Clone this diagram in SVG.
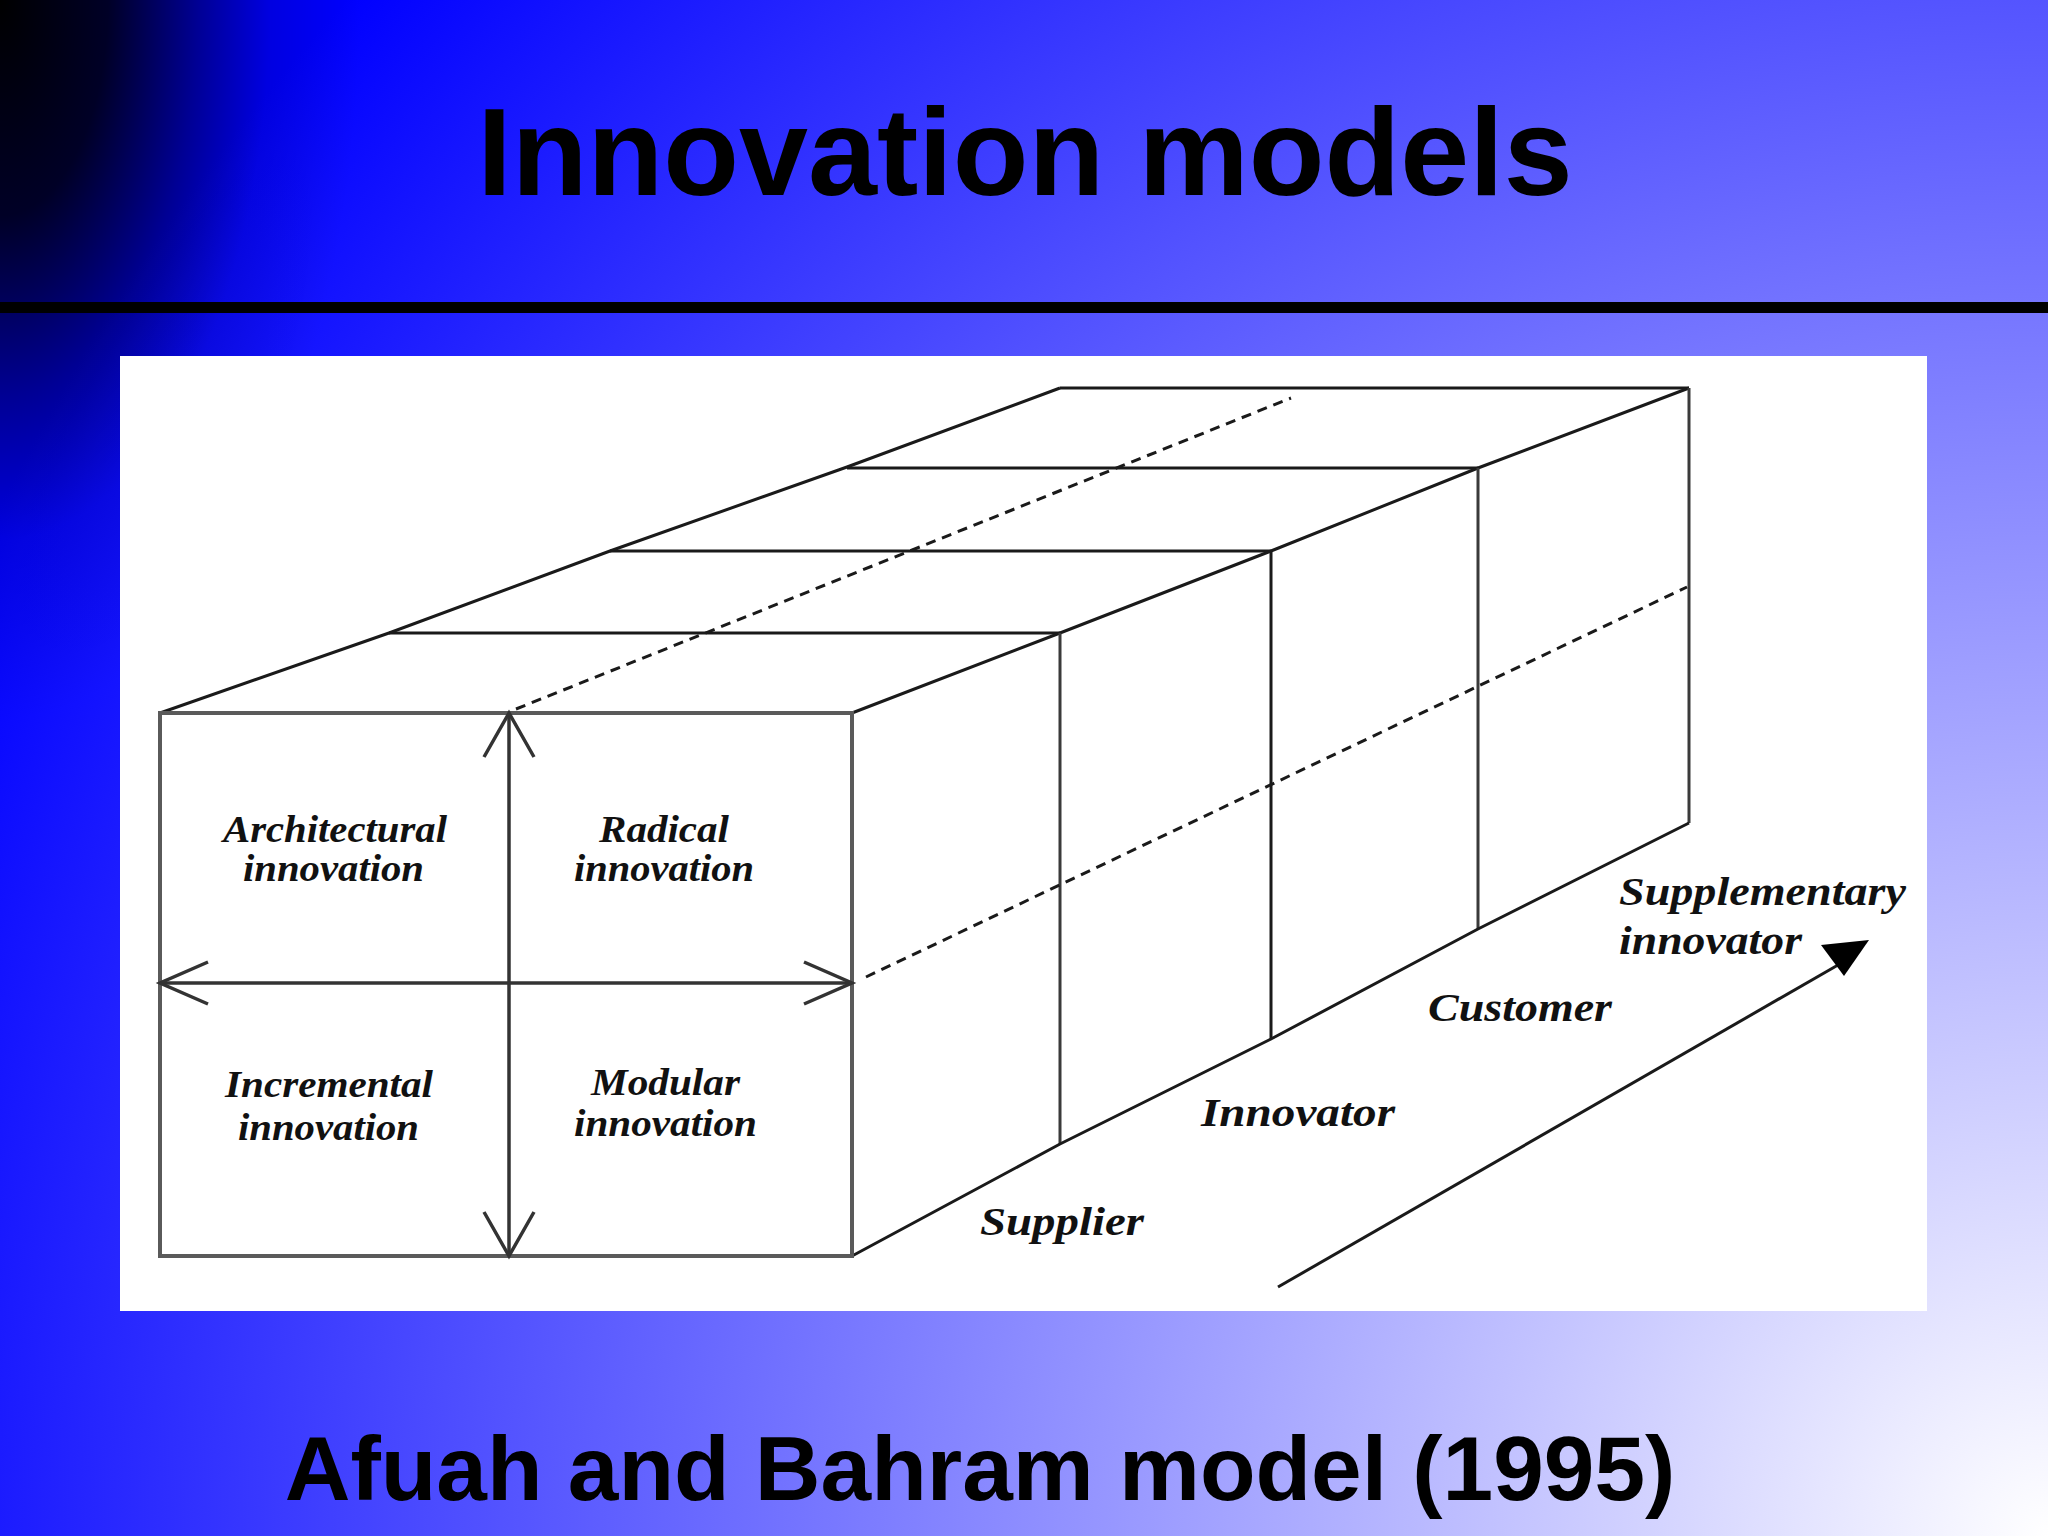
<svg xmlns="http://www.w3.org/2000/svg" width="2048" height="1536" viewBox="0 0 2048 1536">
  <defs>
    <radialGradient id="bgLight" gradientUnits="userSpaceOnUse" cx="2048" cy="1536" r="2293">
      <stop offset="0" stop-color="#ffffff"/>
      <stop offset="1" stop-color="#0000ff"/>
    </radialGradient>
    <radialGradient id="bgDark" gradientUnits="userSpaceOnUse" cx="0" cy="0" r="1" gradientTransform="scale(360,720)">
      <stop offset="0" stop-color="#000000" stop-opacity="1"/>
      <stop offset="0.3" stop-color="#000000" stop-opacity="0.85"/>
      <stop offset="0.55" stop-color="#000000" stop-opacity="0.42"/>
      <stop offset="0.75" stop-color="#000000" stop-opacity="0.12"/>
      <stop offset="1" stop-color="#000000" stop-opacity="0"/>
    </radialGradient>
    <style>
      .title { font-family: "Liberation Sans", Arial, sans-serif; font-weight: bold; fill: #000; text-anchor: middle; }
      .lbl { font-family: "Liberation Serif", "Times New Roman", serif; font-weight: bold; font-style: italic; fill: #111; }
      .q { font-size: 37px; }
      .s { font-size: 41px; }
      .edge { fill: none; stroke: #1a1a1a; stroke-width: 3; stroke-linejoin: miter; }
      .front { fill: none; stroke: #5a5a5a; stroke-width: 4; }
      .vert { fill: none; stroke: #3a3a3a; stroke-width: 3; }
      .dash { fill: none; stroke: #1a1a1a; stroke-width: 3; stroke-dasharray: 10 7; }
      .axis { fill: none; stroke: #333; stroke-width: 3.5; }
    </style>
  </defs>

  <g id="background">
    <rect x="0" y="0" width="2048" height="1536" fill="url(#bgLight)"/>
    <rect x="0" y="0" width="2048" height="1536" fill="url(#bgDark)"/>
    <rect x="0" y="302" width="2048" height="11" fill="#000"/>
  </g>

  <g id="title">
    <text class="title" x="1025" y="195" font-size="124">Innovation models</text>
  </g>

  <g id="panel">
    <rect x="120" y="356" width="1807" height="955" fill="#ffffff"/>
  </g>

  <g id="cube">
    <polyline class="edge" points="160,713 389,633 610,551 847,467 1060,388"/>
    <polyline class="edge" points="852,713 1060,633 1271,551 1478,468 1689,388"/>
    <line class="edge" x1="389" y1="633" x2="1060" y2="633"/>
    <line class="edge" x1="610" y1="551" x2="1271" y2="551"/>
    <line class="edge" x1="847" y1="468" x2="1478" y2="468"/>
    <line class="edge" x1="1060" y1="388" x2="1689" y2="388"/>
    <line class="vert" x1="1060" y1="633" x2="1060" y2="1144"/>
    <line class="edge" x1="1271" y1="551" x2="1271" y2="1039"/>
    <line class="vert" x1="1478" y1="468" x2="1478" y2="929"/>
    <line class="vert" x1="1689" y1="388" x2="1689" y2="823"/>
    <polyline class="edge" points="852,1256 1060,1144 1271,1039 1478,929 1689,823"/>
    <line class="dash" x1="516" y1="709" x2="1291" y2="398"/>
    <line class="dash" x1="866" y1="977" x2="1687" y2="587"/>
    <rect class="front" x="160" y="713" width="692" height="543"/>
  </g>

  <g id="connectors">
    <line class="axis" x1="509" y1="713" x2="509" y2="1256"/>
    <polyline class="axis" points="484,757 509,713 534,757"/>
    <polyline class="axis" points="484,1212 509,1256 534,1212"/>
    <line class="axis" x1="160" y1="983" x2="852" y2="983"/>
    <polyline class="axis" points="208,962 160,983 208,1004"/>
    <polyline class="axis" points="804,962 852,983 804,1004"/>
    <line class="edge" x1="1278" y1="1287" x2="1838" y2="965"/>
    <polygon points="1821,945 1869,940 1844,976" fill="#000"/>
  </g>

  <g id="node-architectural">
    <text class="lbl q" x="223" y="842" textLength="224" lengthAdjust="spacingAndGlyphs">Architectural</text>
    <text class="lbl q" x="243" y="881" textLength="181" lengthAdjust="spacingAndGlyphs">innovation</text>
  </g>
  <g id="node-radical">
    <text class="lbl q" x="599" y="842" textLength="130" lengthAdjust="spacingAndGlyphs">Radical</text>
    <text class="lbl q" x="574" y="881" textLength="180" lengthAdjust="spacingAndGlyphs">innovation</text>
  </g>
  <g id="node-incremental">
    <text class="lbl q" x="225" y="1097" textLength="208" lengthAdjust="spacingAndGlyphs">Incremental</text>
    <text class="lbl q" x="238" y="1140" textLength="181" lengthAdjust="spacingAndGlyphs">innovation</text>
  </g>
  <g id="node-modular">
    <text class="lbl q" x="591" y="1095" textLength="149" lengthAdjust="spacingAndGlyphs">Modular</text>
    <text class="lbl q" x="574" y="1136" textLength="183" lengthAdjust="spacingAndGlyphs">innovation</text>
  </g>

  <g id="node-supplier">
    <text class="lbl s" x="980" y="1235" textLength="164" lengthAdjust="spacingAndGlyphs">Supplier</text>
  </g>
  <g id="node-innovator">
    <text class="lbl s" x="1201" y="1126" textLength="194" lengthAdjust="spacingAndGlyphs">Innovator</text>
  </g>
  <g id="node-customer">
    <text class="lbl s" x="1428" y="1021" textLength="184" lengthAdjust="spacingAndGlyphs">Customer</text>
  </g>
  <g id="node-supplementary">
    <text class="lbl s" x="1619" y="905" textLength="287" lengthAdjust="spacingAndGlyphs">Supplementary</text>
    <text class="lbl s" x="1619" y="954" textLength="183" lengthAdjust="spacingAndGlyphs">innovator</text>
  </g>

  <g id="caption">
    <text class="title" x="980" y="1500" font-size="91">Afuah and Bahram model (1995)</text>
  </g>
</svg>
